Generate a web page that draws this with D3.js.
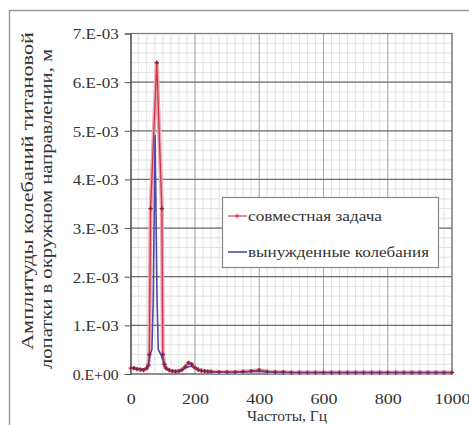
<!DOCTYPE html>
<html>
<head>
<meta charset="utf-8">
<script src="https://cdn.jsdelivr.net/npm/d3@7"></script>
<style>
  html, body { margin: 0; padding: 0; background: #fff; }
  svg { display: block; }
</style>
</head>
<body>
<svg id="chart" width="469" height="425"></svg>
<script>
// Frequencies (Hz) and amplitudes (m) for the coupled problem
const coupledFreq = [0, 10, 20, 30, 40, 50, 55, 58, 62, 81, 97, 100, 105, 110, 120, 130, 140, 150, 160, 170, 180, 190, 200, 210, 220, 230, 240,
  250, 275, 300, 325, 350, 375, 400, 425, 450, 475, 500, 525, 550, 575, 600, 625, 650, 675, 700, 725, 750, 775, 800, 825, 850, 875, 900, 925, 950, 975, 1000];
const coupledAmp = [0.12e-3, 0.12e-3, 0.10e-3, 0.09e-3, 0.08e-3, 0.12e-3, 0.18e-3, 0.4e-3, 3.4e-3, 6.4e-3, 3.4e-3, 0.4e-3, 0.2e-3, 0.12e-3, 0.08e-3, 0.06e-3, 0.05e-3, 0.06e-3, 0.09e-3, 0.15e-3, 0.23e-3, 0.2e-3, 0.13e-3, 0.09e-3, 0.07e-3, 0.06e-3, 0.05e-3,
  0.05e-3, 0.04e-3, 0.04e-3, 0.04e-3, 0.05e-3, 0.06e-3, 0.08e-3, 0.05e-3, 0.04e-3, 0.04e-3, 0.03e-3, 0.03e-3, 0.03e-3, 0.03e-3, 0.03e-3, 0.03e-3, 0.03e-3, 0.03e-3, 0.03e-3, 0.03e-3, 0.03e-3, 0.03e-3, 0.03e-3, 0.03e-3, 0.03e-3, 0.03e-3, 0.03e-3, 0.03e-3, 0.03e-3, 0.03e-3, 0.03e-3];

// Frequencies (Hz) and amplitudes (m) for forced vibrations
const forcedFreq = [0, 10, 20, 30, 40, 50, 55, 60, 66, 70, 76, 82, 86, 94, 100, 105, 110, 120, 130, 140, 150, 160, 170, 180, 190, 200, 210, 220, 230, 240,
  250, 275, 300, 325, 350, 375, 400, 425, 450, 475, 500, 525, 550, 575, 600, 625, 650, 675, 700, 725, 750, 775, 800, 825, 850, 875, 900, 925, 950, 975, 1000];
const forcedAmp = [0.12e-3, 0.12e-3, 0.11e-3, 0.10e-3, 0.10e-3, 0.12e-3, 0.18e-3, 0.4e-3, 0.5e-3, 1.5e-3, 4.9e-3, 1.5e-3, 0.5e-3, 0.4e-3, 0.3e-3, 0.15e-3, 0.1e-3, 0.07e-3, 0.06e-3, 0.05e-3, 0.06e-3, 0.08e-3, 0.12e-3, 0.15e-3, 0.16e-3, 0.12e-3, 0.08e-3, 0.06e-3, 0.05e-3, 0.05e-3,
  0.04e-3, 0.04e-3, 0.03e-3, 0.03e-3, 0.04e-3, 0.05e-3, 0.06e-3, 0.04e-3, 0.03e-3, 0.03e-3, 0.03e-3, 0.03e-3, 0.03e-3, 0.03e-3, 0.03e-3, 0.03e-3, 0.03e-3, 0.03e-3, 0.03e-3, 0.03e-3, 0.03e-3, 0.03e-3, 0.03e-3, 0.03e-3, 0.03e-3, 0.03e-3, 0.03e-3, 0.03e-3, 0.03e-3, 0.03e-3, 0.03e-3];

const seriesNames = ["совместная задача", "вынужденные колебания"];
const xTickValues = [0, 200, 400, 600, 800, 1000];
const yTickValues = [0, 1e-3, 2e-3, 3e-3, 4e-3, 5e-3, 6e-3, 7e-3];
const yTickLabels = ["0.E+00", "1.E-03", "2.E-03", "3.E-03", "4.E-03", "5.E-03", "6.E-03", "7.E-03"];
const xTitle = "Частоты, Гц";
const yTitleLines = ["Амплитуды колебаний титановой", "лопатки в окружном направлении, м"];

const FONT = '"Liberation Serif", "Times New Roman", serif';
const svg = d3.select("#chart");
const plotLeft = 130.7, plotRight = 452, plotTop = 33.5, plotBottom = 374;

const x = d3.scaleLinear().domain([0, 1000]).range([plotLeft, plotRight]);
const y = d3.scaleLinear().domain([0, 7e-3]).range([plotBottom, plotTop]);

// outer chart frame
svg.append("rect").attr("x", 9.5).attr("y", 10.5).attr("width", 470).attr("height", 430)
  .attr("fill", "#fff").attr("stroke", "#9a9a9a").attr("stroke-width", 1.5);

// minor grid
const g = svg.append("g");
g.selectAll("line.vminor").data(d3.range(0, 1001, 25)).join("line")
  .attr("x1", d => x(d)).attr("x2", d => x(d)).attr("y1", plotTop).attr("y2", plotBottom)
  .attr("stroke", "#e2e2e2").attr("stroke-width", 1);
g.selectAll("line.hminor").data(d3.range(0, 7.0001e-3, 0.2e-3)).join("line")
  .attr("y1", d => y(d)).attr("y2", d => y(d)).attr("x1", plotLeft).attr("x2", plotRight)
  .attr("stroke", "#e2e2e2").attr("stroke-width", 1);

// major grid
g.selectAll("line.vmajor").data(xTickValues).join("line")
  .attr("x1", d => x(d)).attr("x2", d => x(d)).attr("y1", plotTop).attr("y2", plotBottom)
  .attr("stroke", "#a8a8a8").attr("stroke-width", 1);
g.selectAll("line.hmajor").data(yTickValues).join("line")
  .attr("y1", d => y(d)).attr("y2", d => y(d)).attr("x1", plotLeft).attr("x2", plotRight)
  .attr("stroke", "#6e6e6e").attr("stroke-width", 1.2);

// plot border
svg.append("rect").attr("x", plotLeft).attr("y", plotTop).attr("width", plotRight - plotLeft).attr("height", plotBottom - plotTop)
  .attr("fill", "none").attr("stroke", "#777").attr("stroke-width", 1.2);

// axes
const yAxis = d3.axisLeft(y).tickValues(yTickValues)
  .tickFormat((d, i) => yTickLabels[i]).tickSize(6).tickPadding(6);
const ya = svg.append("g").attr("transform", `translate(${plotLeft},0)`).call(yAxis);
ya.select(".domain").attr("stroke", "#555");
ya.selectAll(".tick line").attr("stroke", "#555");
ya.selectAll("text").attr("font-size", 15).attr("fill", "#333").style("font-family", FONT)
  .attr("textLength", 46).attr("lengthAdjust", "spacingAndGlyphs").attr("dy", "0.36em");

const xAxis = d3.axisBottom(x).tickValues(xTickValues).tickFormat(d3.format("d")).tickSize(0).tickPadding(0);
const xa = svg.append("g").attr("transform", `translate(0,${plotBottom})`).call(xAxis);
xa.select(".domain").remove();
xa.selectAll("text").attr("font-size", 15).attr("fill", "#333").style("font-family", FONT)
  .attr("y", 30).attr("dy", null)
  .attr("textLength", d => String(d).length * 9).attr("lengthAdjust", "spacingAndGlyphs");

// axis titles
svg.append("text").attr("x", 287).attr("y", 421).attr("text-anchor", "middle")
  .attr("font-size", 15).attr("fill", "#333").style("font-family", FONT)
  .attr("textLength", 80).attr("lengthAdjust", "spacingAndGlyphs").text(xTitle);

svg.append("text").attr("transform", "translate(33,191) rotate(-90)")
  .attr("text-anchor", "middle").attr("font-size", 16.5).attr("fill", "#333").style("font-family", FONT)
  .attr("textLength", 318).attr("lengthAdjust", "spacingAndGlyphs").text(yTitleLines[0]);
svg.append("text").attr("transform", "translate(52,209) rotate(-90)")
  .attr("text-anchor", "middle").attr("font-size", 16.5).attr("fill", "#333").style("font-family", FONT)
  .attr("textLength", 320).attr("lengthAdjust", "spacingAndGlyphs").text(yTitleLines[1]);

// series
const coupled = coupledFreq.map((f, i) => [f, coupledAmp[i]]);
const forced = forcedFreq.map((f, i) => [f, forcedAmp[i]]);
const line = d3.line().x(d => x(d[0])).y(d => y(d[1]));

svg.append("path").datum(coupled).attr("d", line).attr("fill", "none")
  .attr("stroke", "#f2a6b0").attr("stroke-width", 4).attr("stroke-linejoin", "round");
svg.append("path").datum(coupled).attr("d", line).attr("fill", "none")
  .attr("stroke", "#c8384e").attr("stroke-width", 1.3).attr("stroke-linejoin", "round");

svg.append("path").datum(forced).attr("d", line).attr("fill", "none")
  .attr("stroke", "#4a4aa8").attr("stroke-width", 1.6).attr("stroke-linejoin", "round");

// markers on the coupled series
svg.append("g").selectAll("path").data(coupled).join("path")
  .attr("d", d3.symbol(d3.symbolCross, 10))
  .attr("transform", d => `translate(${x(d[0])},${y(d[1])})`)
  .attr("fill", "#8a2040");

// legend
const lg = svg.append("g");
lg.append("rect").attr("x", 222.5).attr("y", 197.5).attr("width", 216).attr("height", 70)
  .attr("fill", "#fff").attr("stroke", "#888").attr("stroke-width", 1.2);
lg.append("line").attr("x1", 228).attr("x2", 247).attr("y1", 216).attr("y2", 216)
  .attr("stroke", "#e88a98").attr("stroke-width", 2);
lg.append("path").attr("d", d3.symbol(d3.symbolAsterisk || d3.symbolCross, 14)).attr("transform", "translate(237,216)")
  .attr("fill", "#c8384e").attr("stroke", "#c8384e").attr("stroke-width", 0.8);
lg.append("line").attr("x1", 228).attr("x2", 247).attr("y1", 252).attr("y2", 252)
  .attr("stroke", "#4a4aa8").attr("stroke-width", 1.6);
lg.append("text").attr("x", 248).attr("y", 221).attr("font-size", 14.5).attr("fill", "#333").style("font-family", FONT)
  .attr("textLength", 134).attr("lengthAdjust", "spacingAndGlyphs").text(seriesNames[0]);
lg.append("text").attr("x", 248).attr("y", 257).attr("font-size", 14.5).attr("fill", "#333").style("font-family", FONT)
  .attr("textLength", 181).attr("lengthAdjust", "spacingAndGlyphs").text(seriesNames[1]);
</script>
</body>
</html>
